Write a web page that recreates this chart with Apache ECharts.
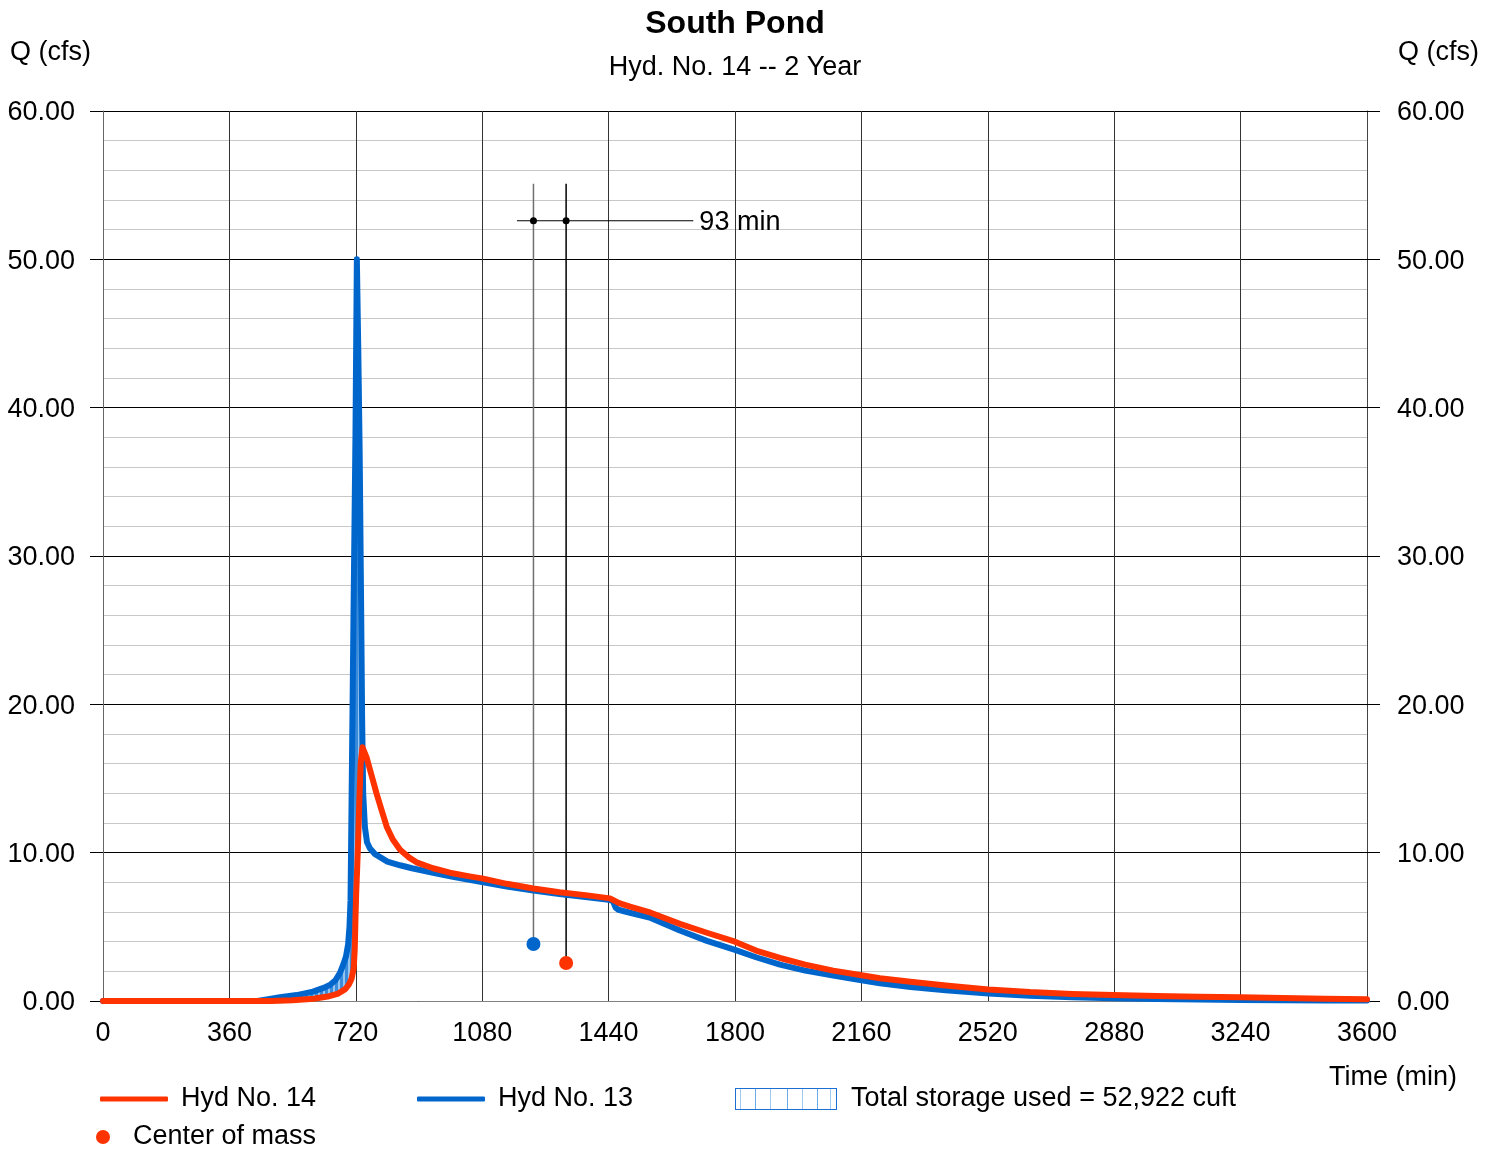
<!DOCTYPE html>
<html><head><meta charset="utf-8">
<script src="https://cdn.jsdelivr.net/npm/echarts@6/dist/echarts.min.js"></script>
<style>html,body{margin:0;padding:0;background:#fff}#c{width:1494px;height:1149px}</style>
</head><body><div id="c"></div>
<script>
// ---------- data ----------
const chartTitle = 'South Pond';
const chartSubtitle = 'Hyd. No. 14 -- 2 Year';
const xTickLabels = ['0','360','720','1080','1440','1800','2160','2520','2880','3240','3600'];
const yTickLabels = ['0.00','10.00','20.00','30.00','40.00','50.00','60.00'];

const hyd13Name = 'Hyd No. 13';
const hyd13Time = [0,440,475,504,552,598,630,646,662,675,685,692,698,702,705,708,713,719,723,727,731,735,738,741,746,752,760,775,789,810,846,880,940,1000,1083,1150,1226,1300,1380,1440,1452,1460,1468,1501,1560,1643,1720,1800,1860,1928,2000,2080,2156,2213,2300,2400,2522,2640,2760,2877,3000,3120,3240,3360,3480,3600];
const hyd13Flow = [0,0,0.13,0.25,0.4,0.63,0.9,1.08,1.4,1.9,2.5,3.0,3.8,5.0,6.8,13.5,25,38,50,44,37,27,19,14,11.7,10.7,10.3,9.9,9.7,9.4,9.15,8.95,8.65,8.35,8.0,7.72,7.45,7.22,7.0,6.82,6.75,6.3,6.15,5.95,5.6,4.75,4.05,3.45,2.95,2.45,2.05,1.72,1.42,1.2,0.95,0.72,0.5,0.36,0.26,0.18,0.13,0.1,0.07,0.05,0.04,0.03];

const hyd14Name = 'Hyd No. 14';
const hyd14Time = [0,480,540,600,640,670,690,700,708,714,717,719,721,724,727,730,734,739,744,751,765,779,793,808,825,846,870,893,940,988,1040,1083,1150,1226,1300,1380,1444,1470,1501,1560,1643,1720,1800,1860,1928,2000,2080,2156,2213,2300,2400,2522,2640,2760,2877,3000,3120,3240,3360,3480,3600];
const hyd14Flow = [0,0,0.05,0.15,0.3,0.5,0.8,1.1,1.5,2.2,3.5,5.5,7.2,9,11,13.5,16,17.1,17.0,16.4,15.2,14.0,12.9,11.75,10.9,10.2,9.7,9.35,8.95,8.65,8.42,8.25,7.9,7.58,7.33,7.12,6.92,6.6,6.36,5.95,5.2,4.6,4.0,3.4,2.9,2.45,2.05,1.75,1.53,1.3,1.05,0.78,0.6,0.48,0.4,0.33,0.28,0.25,0.2,0.15,0.11];

const centerOfMassName = 'Center of mass';
const centerOfMassTime = [1226, 1319];   // Hyd 13, Hyd 14
const centerOfMassFlow = [3.84, 2.56];

const storageName = 'Total storage used = 52,922 cuft';
const storageStart = 440;   // min
const storageEnd = 739;     // min (curves cross)

const lagLabel = '93 min';
const lagTopFlow = 55.1;
const lagLineFlow = 52.6;
const lagLineStart = 1179;
const lagLineEnd = 1680;

// ---------- styles ----------
const RED = '#ff3300', BLUE = '#0066cc';
const FONT = '"Liberation Sans", Arial, sans-serif';
const FS = 27;

function zip(t, q) { return t.map((v, i) => [v, q[i]]); }

function makePattern() {
  const c = document.createElement('canvas'); c.width = 5; c.height = 10;
  const g = c.getContext('2d');
  g.fillStyle = '#3a8cdb'; g.fillRect(0, 0, 5, 10);
  g.fillStyle = '#96c5f0'; g.fillRect(3, 0, 2, 10);
  return c;
}
function makeStorageIcon() {
  const c = document.createElement('canvas'); c.width = 102; c.height = 22;
  const g = c.getContext('2d');
  g.fillStyle = '#fff'; g.fillRect(0, 0, 102, 22);
  g.lineWidth = 1;
  [5, 20, 35, 52, 67, 82, 95].forEach((x, i) => {
    g.strokeStyle = i % 2 ? '#6aaae8' : '#9fc9f0';
    g.beginPath(); g.moveTo(x + 0.5, 1); g.lineTo(x + 0.5, 21); g.stroke();
  });
  g.strokeStyle = '#1a6fd0'; g.strokeRect(0.5, 0.5, 101, 21);
  return c.toDataURL();
}
const pattern = makePattern();

const chart = echarts.init(document.getElementById('c'), null, {renderer: 'canvas'});

const blueData = zip(hyd13Time, hyd13Flow);
const redData = zip(hyd14Time, hyd14Flow);

function txt(x, y, s, font, align) {
  return {type: 'text', x: x, y: y, style: {text: s, font: font, fill: '#000', align: align, verticalAlign: 'middle', textAlign: align, textVerticalAlign: 'middle'}};
}
const legendText = {fontSize: FS, color: '#000', fontFamily: FONT, lineHeight: 30};
const shiftRich = {s: {fontSize: FS, color: '#000', fontFamily: FONT, padding: [4, 0, 0, 0]}};

const option = {
  animation: false,
  backgroundColor: '#fff',
  textStyle: {fontFamily: FONT, color: '#000'},
  grid: {left: 103, right: 127, top: 111, bottom: 148, containLabel: false},
  graphic: [
    txt(735, 24, chartTitle, 'bold 32px ' + FONT, 'center'),
    txt(735, 68, chartSubtitle, FS + 'px ' + FONT, 'center'),
    txt(10, 53, 'Q (cfs)', FS + 'px ' + FONT, 'left'),
    txt(1398, 53, 'Q (cfs)', FS + 'px ' + FONT, 'left'),
    txt(1329, 1078, 'Time (min)', FS + 'px ' + FONT, 'left')
  ],
  legend: [
    {data: [hyd14Name], left: 100, top: 1084, selectedMode: false, padding: 0, itemWidth: 68, itemHeight: 5, icon: 'roundRect',
     textStyle: Object.assign({padding: [0, 0, 0, 8]}, legendText)},
    {data: [hyd13Name], left: 417, top: 1084, selectedMode: false, padding: 0, itemWidth: 68, itemHeight: 5, icon: 'roundRect',
     textStyle: Object.assign({padding: [0, 0, 0, 8]}, legendText)},
    {data: [{name: storageName, icon: 'image://' + makeStorageIcon()}], left: 735, top: 1084, selectedMode: false, padding: 0, itemWidth: 102, itemHeight: 22,
     textStyle: Object.assign({padding: [0, 0, 0, 9]}, legendText)},
    {data: [centerOfMassName], left: 96, top: 1122, selectedMode: false, padding: 0, itemWidth: 14, itemHeight: 14, icon: 'circle',
     textStyle: Object.assign({padding: [0, 0, 0, 18]}, legendText)}
  ],
  xAxis: {
    type: 'value', min: 0, max: 3600, interval: 360,
    axisLine: {show: true, onZero: false, lineStyle: {color: '#808080', width: 1}},
    axisTick: {show: false},
    axisLabel: {fontSize: FS, color: '#000', margin: 19, fontFamily: FONT,
      formatter: v => xTickLabels[Math.round(v / 360)]},
    splitLine: {show: true, lineStyle: {color: '#333', width: 1}}
  },
  yAxis: [
    {type: 'value', min: 0, max: 60, interval: 10, position: 'left',
     axisLine: {show: true, lineStyle: {color: '#666', width: 1}},
     axisTick: {show: true, length: 13, lineStyle: {color: '#000'}},
     axisLabel: {fontSize: FS, color: '#000', margin: 28, fontFamily: FONT, rich: shiftRich,
       formatter: v => '{s|' + yTickLabels[Math.round(v / 10)] + '}'},
     splitLine: {show: true, lineStyle: {color: '#000', width: 1}},
     minorTick: {show: false, splitNumber: 5},
     minorSplitLine: {show: true, lineStyle: {color: '#c8c8c8', width: 1}}},
    {type: 'value', min: 0, max: 60, interval: 10, position: 'right',
     axisLine: {show: true, lineStyle: {color: '#444', width: 1}},
     axisTick: {show: true, length: 13, lineStyle: {color: '#000'}},
     axisLabel: {fontSize: FS, color: '#000', margin: 30, fontFamily: FONT, rich: shiftRich,
       formatter: v => '{s|' + yTickLabels[Math.round(v / 10)] + '}'},
     splitLine: {show: false}}
  ],
  series: [
    {
      name: storageName, type: 'custom', z: 1, color: '#3a8cdb',
      data: [[storageStart, 0]],
      renderItem: function (params, api) {
        const up = blueData.filter(p => p[0] >= storageStart && p[0] < storageEnd).map(p => api.coord(p));
        const down = redData.filter(p => p[0] >= storageStart && p[0] <= storageEnd).map(p => api.coord(p)).reverse();
        return {type: 'polygon', shape: {points: up.concat(down)},
          style: {fill: {image: pattern, repeat: 'repeat'}, stroke: null}};
      }
    },
    {name: hyd13Name, type: 'line', data: blueData, symbol: 'none', color: BLUE, z: 3,
     lineStyle: {color: BLUE, width: 6, join: 'round', cap: 'round'}},
    {name: hyd14Name, type: 'line', data: redData, symbol: 'none', color: RED, z: 4,
     lineStyle: {color: RED, width: 6, join: 'round', cap: 'round'}},
    {name: 'lagA', type: 'line', symbol: 'none', z: 2, silent: true,
     data: [[centerOfMassTime[0], lagTopFlow], [centerOfMassTime[0], centerOfMassFlow[0]]],
     lineStyle: {color: '#707070', width: 1.5}},
    {name: 'lagB', type: 'line', symbol: 'none', z: 2, silent: true,
     data: [[centerOfMassTime[1], lagTopFlow], [centerOfMassTime[1], centerOfMassFlow[1]]],
     lineStyle: {color: '#000', width: 1.5}},
    {name: 'lagH', type: 'line', symbol: 'none', z: 2, silent: true,
     data: [[lagLineStart, lagLineFlow], [lagLineEnd, lagLineFlow]],
     lineStyle: {color: '#000', width: 1.2}},
    {name: 'lagDots', type: 'scatter', z: 5, silent: true, symbolSize: 7,
     itemStyle: {color: '#000', opacity: 1},
     data: [[centerOfMassTime[0], lagLineFlow], [centerOfMassTime[1], lagLineFlow]]},
    {name: 'lagText', type: 'scatter', z: 5, silent: true, symbolSize: 1,
     itemStyle: {color: '#000', opacity: 1},
     data: [[lagLineEnd, lagLineFlow]],
     label: {show: true, position: 'right', distance: 6, formatter: '{s|' + lagLabel + '}', rich: shiftRich, fontSize: FS, color: '#000', fontFamily: FONT}},
    {name: centerOfMassName, type: 'scatter', z: 6, symbolSize: 14, color: RED,
     itemStyle: {opacity: 1},
     data: [
       {value: [centerOfMassTime[0], centerOfMassFlow[0]], itemStyle: {color: BLUE, opacity: 1}},
       {value: [centerOfMassTime[1], centerOfMassFlow[1]], itemStyle: {color: RED, opacity: 1}}
     ]}
  ]
};
chart.setOption(option);
</script>
</body></html>
